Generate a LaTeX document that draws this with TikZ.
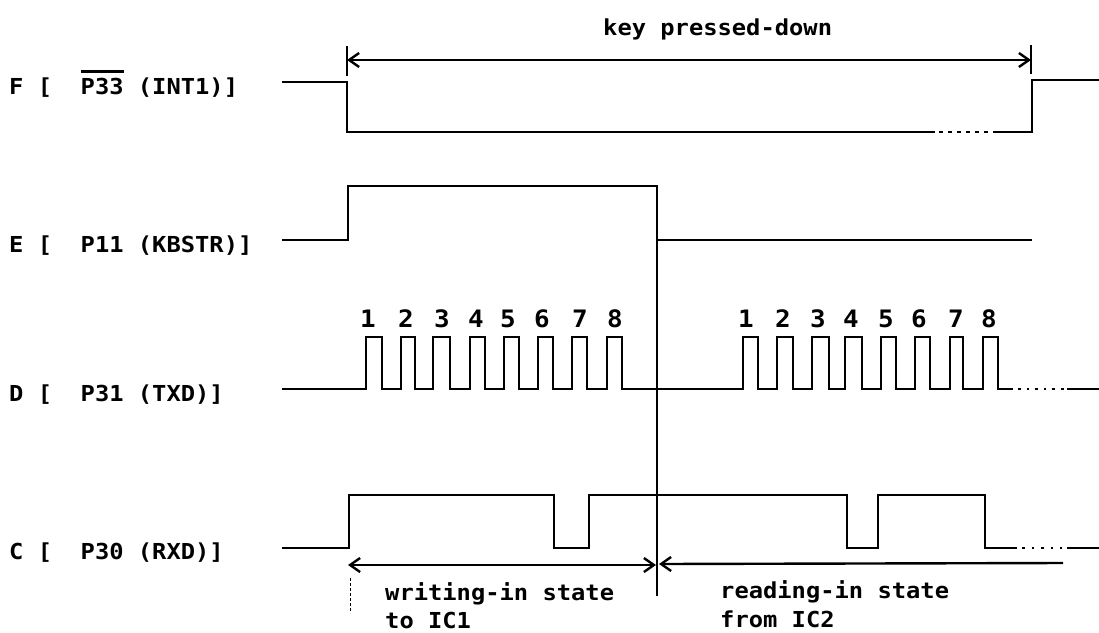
\documentclass[tikz,border=0pt]{standalone}
\usepackage{fontspec}
\newfontfamily\lblfont[FakeStretch=1.08]{DejaVu Sans Mono}
\usetikzlibrary{arrows.meta}
\newcommand\ovl[1]{\leavevmode\setbox0=\hbox{#1}\rlap{\raisebox{\dimexpr\ht0+5pt\relax}{\rule{\wd0}{2.4pt}}}\box0\relax}
\begin{document}
\begin{tikzpicture}[x=1pt,y=-1pt,
  sig/.style={line width=2.9pt, line join=miter},
  dotsig/.style={line width=2.9pt, dash pattern=on 4pt off 5pt},
  dim/.style={line width=2.4pt, arrows={Straight Barb[length=10pt,width=14pt]-Straight Barb[length=10pt,width=14pt]}},
  lbl/.style={font=\lblfont\bfseries\fontsize{22}{28}\selectfont, inner sep=0pt, anchor=base west},
  num/.style={font=\lblfont\bfseries\fontsize{24}{28}\selectfont, inner sep=0pt, anchor=base},
  tick/.style={line width=2.4pt},
  thin/.style={line width=1.8pt}
]
\useasboundingbox (0,0) rectangle (1099,632);

% signal labels
\node[lbl] (lF) at (9,94) {F [~~\ovl{P33} (INT1)]};
\node[lbl] (lE) at (9,252) {E [~~P11 (KBSTR)]};
\node[lbl] (lD) at (9,401) {D [~~P31 (TXD)]};
\node[lbl] (lC) at (9,559) {C [~~P30 (RXD)]};

% key pressed-down
\node[lbl] (key) at (603,35) {key pressed-down};
\coordinate (kLt) at (347,46); \coordinate (kLb) at (347,76);
\coordinate (kRt) at (1031,45); \coordinate (kRb) at (1031,74);
\draw[tick] (kLt) -- (kLb);
\draw[tick] (kRt) -- (kRb);
\coordinate (kL) at (347,60); \coordinate (kR) at (1031,60);
\draw[dim] (kL) -- (kR);

% F signal
\draw[sig] (282,82) -- (347,82) -- (347,132) -- (935,132);
\draw[dotsig] (939,132) -- (997,132);
\draw[sig] (997,132) -- (1032,132) -- (1032,80) -- (1099,80);

% E signal
\draw[sig] (282,240) -- (348,240) -- (348,186) -- (657,186) -- (657,240) -- (1032,240);
% centre divider
\coordinate (vT) at (657,186); \coordinate (vB) at (657,596);
\draw[thin] (vT) -- (vB);

% D signal
\draw[sig] (282,389)
  \foreach \r/\f in {366/382,401/415,433/450,470/485,504/519,538/553,572/587,607/622}
    { -- (\r,389) -- (\r,337) -- (\f,337) -- (\f,389) }
  \foreach \r/\f in {743/758,777/793,812/829,845/862,881/896,915/930,950/963,983/998}
    { -- (\r,389) -- (\r,337) -- (\f,337) -- (\f,389) }
  -- (1013,389);
\draw[dotsig, dash pattern=on 2.6pt off 6pt] (1018,389) -- (1064,389);
\draw[sig] (1067,389) -- (1099,389);

\foreach \x/\n in {368/1,406/2,442/3,476/4,508/5,542/6,580/7,615/8}
  \node[num] (dA\n) at (\x,327) {\n};
\foreach \x/\n in {746/1,783/2,818/3,851/4,886/5,919/6,956/7,989/8}
  \node[num] (dB\n) at (\x,327) {\n};

% C signal
\draw[sig] (282,548) -- (349,548) -- (349,495) -- (554,495) -- (554,548) -- (589,548) -- (589,495)
  -- (847,495) -- (847,548) -- (878,548) -- (878,495) -- (985,495) -- (985,548) -- (1017,548);
\draw[dotsig, dash pattern=on 2.6pt off 7pt] (1022,548) -- (1062,548);
\draw[sig] (1067,548) -- (1099,548);

% state arrows
\coordinate (wL) at (348,565); \coordinate (wR) at (656,565);
\draw[dim] (wL) -- (wR);
\coordinate (rL) at (659,564); \coordinate (rR) at (1063,563);
\draw[dim, arrows={Straight Barb[length=10pt,width=14pt]-}] (rL) -- (rR);
\coordinate (dT) at (350,578); \coordinate (dB) at (350,613);
\draw[line width=0.9pt, dash pattern=on 3pt off 2pt] (dT) -- (dB);

\node[lbl] (w1) at (385,600) {writing-in state};
\node[lbl] (w2) at (385,628) {to IC1};
\node[lbl] (r1) at (720,598) {reading-in state};
\node[lbl] (r2) at (720,627) {from IC2};
\end{tikzpicture}
\end{document}
